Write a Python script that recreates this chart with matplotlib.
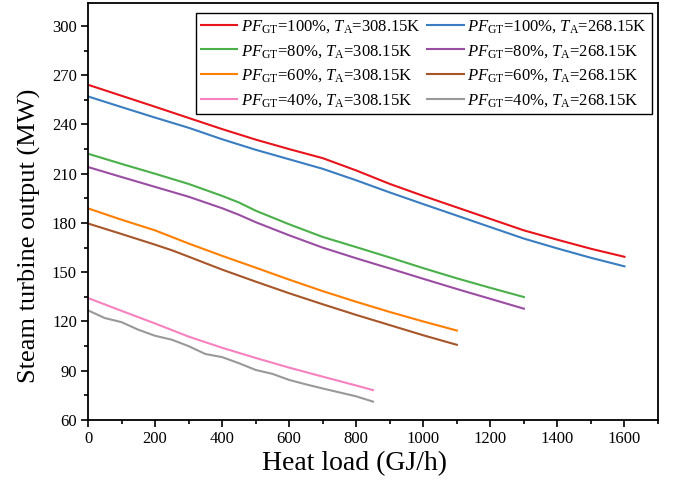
import matplotlib
matplotlib.use("Agg")
import matplotlib.pyplot as plt
from matplotlib.ticker import MultipleLocator

plt.rcParams['font.family'] = ['Liberation Serif', 'DejaVu Serif']
plt.rcParams['mathtext.fontset'] = 'custom'
plt.rcParams['mathtext.rm'] = 'Liberation Serif'
plt.rcParams['mathtext.it'] = 'Liberation Serif:italic'

# Heat load (GJ/h) and steam turbine output (MW)
x_100 = [0, 100, 200, 300, 400, 500, 600, 700, 800, 900, 1000, 1100, 1200, 1300, 1400, 1500, 1600]
red = [264.2, 257.5, 250.8, 244.0, 237.2, 230.8, 225.0, 219.5, 212.0, 203.8, 196.5, 189.5, 182.5, 175.5, 169.8, 164.3, 159.4]
blue = [257.1, 250.6, 244.2, 238.0, 231.0, 224.6, 218.8, 213.0, 206.0, 198.6, 191.5, 184.5, 177.5, 170.5, 164.5, 158.8, 153.6]

x_80 = [0, 100, 200, 300, 400, 450, 500, 600, 700, 800, 900, 1000, 1100, 1200, 1300]
green = [222.2, 216.0, 210.0, 203.8, 196.5, 192.5, 187.5, 179.2, 171.5, 165.3, 159.0, 152.5, 146.3, 140.5, 134.9]
purple = [214.1, 208.0, 202.0, 196.0, 189.0, 185.0, 180.5, 172.5, 165.0, 158.5, 152.3, 146.0, 139.8, 133.8, 127.8]

x_60 = [0, 100, 200, 250, 300, 400, 500, 600, 700, 800, 900, 1000, 1100]
orange = [188.9, 182.0, 175.5, 171.5, 167.5, 160.0, 152.8, 145.5, 138.5, 132.0, 125.8, 120.0, 114.5]
brown = [179.7, 173.3, 166.8, 163.4, 159.5, 151.6, 144.3, 137.2, 130.5, 124.0, 117.8, 111.6, 105.8]

x_40p = [0, 100, 200, 300, 400, 500, 600, 700, 800, 850]
pink = [134.3, 126.5, 118.8, 110.8, 104.0, 97.8, 91.9, 86.4, 81.0, 78.2]

x_40g = [0, 50, 100, 150, 200, 250, 300, 350, 400, 450, 500, 550, 600, 650, 700, 750, 800, 850]
gray = [126.8, 122.1, 119.6, 115.0, 111.3, 108.9, 105.0, 100.2, 98.3, 94.6, 90.5, 88.1, 84.4, 81.7, 79.2, 76.8, 74.4, 71.2]

labels = [
    r'$PF_{\rm GT}$=100%, $T_{\rm A}$=308.15K', r'$PF_{\rm GT}$=100%, $T_{\rm A}$=268.15K',
    r'$PF_{\rm GT}$=80%, $T_{\rm A}$=308.15K', r'$PF_{\rm GT}$=80%, $T_{\rm A}$=268.15K',
    r'$PF_{\rm GT}$=60%, $T_{\rm A}$=308.15K', r'$PF_{\rm GT}$=60%, $T_{\rm A}$=268.15K',
    r'$PF_{\rm GT}$=40%, $T_{\rm A}$=308.15K', r'$PF_{\rm GT}$=40%, $T_{\rm A}$=268.15K',
]
colors = ['#e8141b', '#3a7dc0', '#4bb04a', '#9a4ea3', '#ff7f00', '#a65628', '#f781bf', '#999999']
series = [(x_100, red), (x_100, blue), (x_80, green), (x_80, purple),
          (x_60, orange), (x_60, brown), (x_40p, pink), (x_40g, gray)]

fig = plt.figure(figsize=(6.74, 4.88), dpi=100)
ax = fig.add_axes([88/674, 1-420/488, 570/674, 417/488])

handles = []
for (xs, ys), c, lab in zip(series, colors, labels):
    h, = ax.plot(xs, ys, color=c, lw=1.5, label=lab)
    handles.append(h)

ax.set_xlim(0, 1700)
ax.set_ylim(60, 314)
ax.xaxis.set_major_locator(MultipleLocator(200))
ax.xaxis.set_minor_locator(MultipleLocator(100))
ax.yaxis.set_major_locator(MultipleLocator(30))
ax.yaxis.set_minor_locator(MultipleLocator(15))
ax.tick_params(which='both', direction='out', top=False, right=False, labelsize=12, width=1.2, pad=3)
ax.tick_params(which='major', length=5)
ax.tick_params(which='minor', length=3)
for s in ax.spines.values():
    s.set_linewidth(1.3)

ax.set_xlabel('Heat load (GJ/h)', fontsize=20, labelpad=2)
ax.xaxis.set_label_coords(0.468, -0.075)
ax.set_ylabel('Steam turbine output (MW)', fontsize=19, labelpad=4)
ax.yaxis.set_label_coords(-0.082, 0.441)

# row-wise legend order: left column 308.15K, right column 268.15K
order = [0, 2, 4, 6, 1, 3, 5, 7]
leg = ax.legend(handles=[handles[i] for i in order], ncol=2, loc='upper right',
                bbox_to_anchor=((652-88)/570, (420-13)/417), borderaxespad=0,
                fontsize=12, frameon=True, fancybox=False, framealpha=1,
                edgecolor='black', handlelength=2.2, handletextpad=0.2,
                columnspacing=0.4, labelspacing=0.48, borderpad=0.3)
leg.get_frame().set_linewidth(1.0)

fig.savefig('out.png', dpi=100)
